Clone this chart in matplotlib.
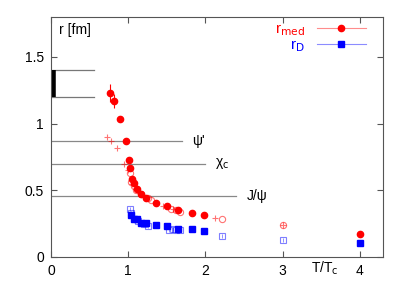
import matplotlib
matplotlib.use("Agg")
import matplotlib.pyplot as plt
from matplotlib.lines import Line2D

plt.rcParams["font.family"] = ["Liberation Sans", "DejaVu Sans"]

# r_med (lattice), filled
med_t = [0.76, 0.82, 0.90, 0.97, 1.01, 1.02, 1.05, 1.07, 1.11, 1.16, 1.23,
         1.36, 1.50, 1.64, 1.82, 1.98, 4.0]
med_r = [1.23, 1.17, 1.035, 0.87, 0.73, 0.665, 0.585, 0.555, 0.513, 0.475,
         0.443, 0.408, 0.38, 0.355, 0.333, 0.313, 0.175]
med_err = [0.07, 0.05, 0, 0, 0, 0, 0, 0, 0, 0, 0, 0, 0, 0, 0, 0, 0]
# r_med, open circles
med2_t = [1.02, 1.04, 1.07, 1.10, 1.17, 1.25, 1.30, 1.56, 1.62, 1.67, 2.22, 3.0]
med2_r = [0.63, 0.56, 0.53, 0.50, 0.47, 0.44, 0.43, 0.363, 0.355, 0.34, 0.285, 0.243]
# r_med, crosses
med3_t = [0.72, 0.78, 0.85, 0.95, 1.0, 1.05, 1.12, 1.20, 1.45, 1.58, 2.13, 3.0]
med3_r = [0.90, 0.873, 0.815, 0.70, 0.65, 0.55, 0.50, 0.45, 0.38, 0.36, 0.293, 0.243]
# r_D, filled squares
d_t = [1.03, 1.07, 1.11, 1.17, 1.23, 1.36, 1.50, 1.65, 1.82, 1.98, 4.0]
d_r = [0.313, 0.288, 0.283, 0.258, 0.255, 0.243, 0.23, 0.213, 0.213, 0.195, 0.108]
# r_D, open squares
d2_t = [1.02, 1.04, 1.13, 1.20, 1.25, 1.53, 1.58, 1.62, 1.67, 2.22, 3.0]
d2_r = [0.358, 0.33, 0.27, 0.245, 0.23, 0.205, 0.21, 0.205, 0.20, 0.158, 0.125]

# charmonium radii
states = ["ψ'", "χ$_\\mathrm{c}$", "J/ψ"]
state_r = [0.87, 0.70, 0.455]
state_end = [1.70, 2.0, 2.40]
hadron_band = [1.2, 1.4]
hadron_end = 0.56

RED, BLUE = "#ff0000", "#0000ff"

fig = plt.figure(figsize=(4.09, 2.86), dpi=100)
ax = fig.add_axes([51 / 409, 29 / 286, 332 / 409, 240 / 286])

for r, end, name in zip(state_r, state_end, states):
    ax.plot([0, end], [r, r], color="#888888", lw=0.9, zorder=1)
    ax.text(end + 0.13, r, name, fontsize=10, va="center", ha="left")
for r in hadron_band:
    ax.plot([0, hadron_end], [r, r], color="#777777", lw=0.9, zorder=1)
ax.plot([0.03, 0.03], hadron_band, color="black", lw=4, solid_capstyle="butt")

ax.plot(med3_t, med3_r, "+", color=RED, alpha=0.55, ms=5, mew=0.8)
ax.plot(med2_t, med2_r, "o", mfc="none", mec=RED, alpha=0.55, ms=4.5, mew=0.8)
ax.errorbar(med_t, med_r, yerr=med_err, fmt="o", color=RED, ms=4.5,
            elinewidth=0.8, capsize=0)
ax.plot(d2_t, d2_r, "s", mfc="none", mec=BLUE, alpha=0.5, ms=4.2, mew=0.8)
ax.plot(d2_t, d2_r, "|", color=BLUE, alpha=0.5, ms=2.5, mew=0.6)
ax.plot(d_t, d_r, "s", color=BLUE, ms=4.2)

handles = [Line2D([], [], color="#ff8c8c", marker="o", ms=4.5, lw=0.8,
                  mfc=RED, mec=RED),
           Line2D([], [], color="#8c8cff", marker="s", ms=4.2, lw=0.8,
                  mfc=BLUE, mec=BLUE)]
ax.legend(handles, ["r$_\\mathrm{med}$", "r$_\\mathrm{D}$"], loc="upper right",
          bbox_to_anchor=(0.99, 1.035), frameon=False, markerfirst=False,
          fontsize=11, handlelength=3.2, labelspacing=0.0,
          labelcolor=[RED, BLUE])

ax.text(0.1, 1.7, "r [fm]", fontsize=10, va="center")
ax.text(3.55, -0.085, "T/T$_\\mathrm{c}$", fontsize=10, va="center", ha="center",
        clip_on=False)

ax.set_xlim(0, 4.3)
ax.set_ylim(0, 1.8)
ax.set_xticks([0, 1, 2, 3, 4])
ax.set_yticks([0, 0.5, 1, 1.5])
ax.set_yticklabels(["0", "0.5", "1", "1.5"])
ax.tick_params(direction="in", top=True, right=True, labelsize=10,
               length=4, color="#555555", pad=5)
for s in ax.spines.values():
    s.set_color("#555555")

fig.savefig("out.png", dpi=100)
